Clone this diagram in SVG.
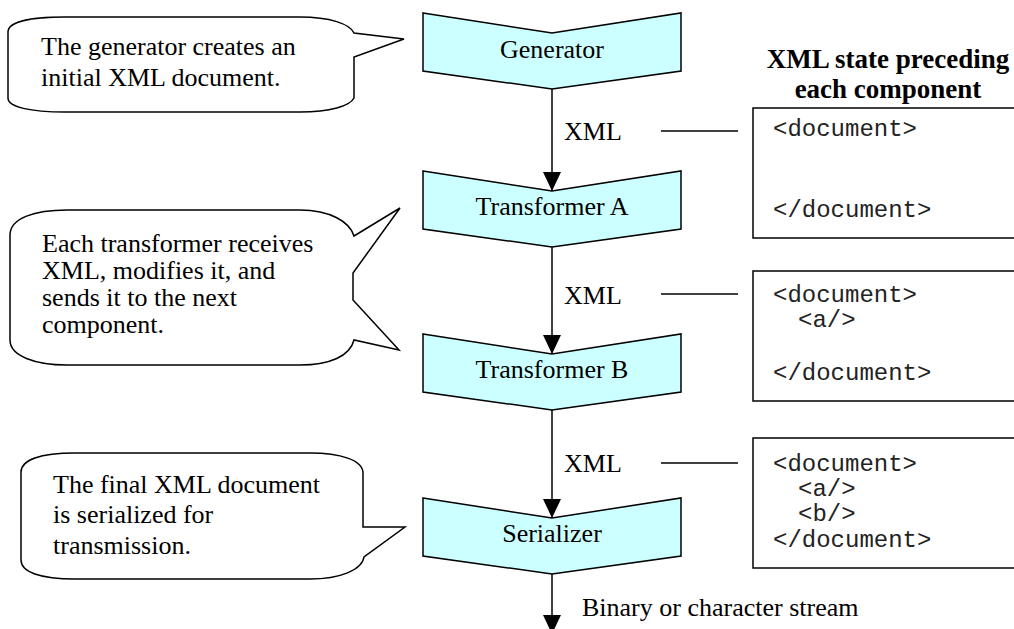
<svg xmlns="http://www.w3.org/2000/svg" width="1014" height="629" viewBox="0 0 1014 629">
<defs>
<marker id="arrow" viewBox="0 0 19 18" refX="19" refY="9" markerWidth="19" markerHeight="18" markerUnits="userSpaceOnUse" orient="auto">
<path d="M0,0 L19,9 L0,18 Z" fill="#000"/>
</marker>
<style>
.chev{fill:#ccffff;stroke:#000;stroke-width:1.5;stroke-linejoin:miter}
.callout{fill:#fff;stroke:#000;stroke-width:1.5;stroke-linejoin:miter}
.doc{fill:#fff;stroke:#000;stroke-width:1.5}
.t{font-family:"Liberation Serif","Times New Roman",serif;font-size:26px;fill:#000}
.mid{text-anchor:middle}
.title{font-family:"Liberation Serif","Times New Roman",serif;font-size:27px;font-weight:bold;fill:#000;text-anchor:middle}
.code{font-family:"Liberation Mono","Courier New",monospace;font-size:24px;fill:#222}
.conn{stroke:#000;stroke-width:1.5;fill:none}
</style>
</defs>
<rect width="1014" height="629" fill="#fff"/>

<g id="callout-generator">
<path class="callout" d="M8,32 C8,22 30,17 65,17 L300,17 C330,17 350,24 354,33 L404,39 L354,57 L354,98 C350,106 330,112 300,112 L65,112 C30,112 8,107 8,98 Z"/>
<text class="t" x="41" y="55">The generator creates an</text>
<text class="t" x="41" y="86">initial XML document.</text>
</g>

<g id="callout-transformer">
<path class="callout" d="M10,235 C10,218 35,210 67,210 L300,210 C330,210 350,222 354,236 L400,208 L353,273 L353,300 L399,350 L354,340 C350,356 330,365 300,365 L67,365 C35,365 10,356 10,340 Z"/>
<text class="t" x="42" y="252">Each transformer receives</text>
<text class="t" x="42" y="279">XML, modifies it, and</text>
<text class="t" x="42" y="306">sends it to the next</text>
<text class="t" x="42" y="333">component.</text>
</g>

<g id="callout-serializer">
<path class="callout" d="M21,472 C21,460 40,453 75,453 L310,453 C340,453 363,460 363,473 L363,527 L405,527 L364,557 C362,570 340,579 310,579 L75,579 C40,579 21,572 21,560 Z"/>
<text class="t" x="53" y="493">The final XML document</text>
<text class="t" x="53" y="523">is serialized for</text>
<text class="t" x="53" y="554">transmission.</text>
</g>

<g id="generator">
<polygon class="chev" points="423,13 552,33 681,13 681,71 552,89 423,71"/>
<text class="t mid" x="552" y="58">Generator</text>
</g>

<g id="transformer-a">
<polygon class="chev" points="423,171 552,191 681,171 681,229 552,247 423,229"/>
<text class="t mid" x="552" y="215">Transformer A</text>
</g>

<g id="transformer-b">
<polygon class="chev" points="423,334 552,354 681,334 681,392 552,410 423,392"/>
<text class="t mid" x="552" y="378">Transformer B</text>
</g>

<g id="serializer">
<polygon class="chev" points="423,498 552,518 681,498 681,556 552,574 423,556"/>
<text class="t mid" x="552" y="542">Serializer</text>
</g>

<g id="state-title">
<text class="title" x="888" y="68">XML state preceding</text>
<text class="title" x="888" y="98">each component</text>
</g>

<g id="state-1">
<rect class="doc" x="753" y="108" width="270" height="130"/>
<text class="code" x="773" y="136">&lt;document&gt;</text>
<text class="code" x="773" y="217">&lt;/document&gt;</text>
</g>

<g id="state-2">
<rect class="doc" x="753" y="271" width="270" height="130"/>
<text class="code" x="773" y="302">&lt;document&gt;</text>
<text class="code" x="798" y="327">&lt;a/&gt;</text>
<text class="code" x="773" y="380">&lt;/document&gt;</text>
</g>

<g id="state-3">
<rect class="doc" x="753" y="438" width="270" height="130"/>
<text class="code" x="773" y="471">&lt;document&gt;</text>
<text class="code" x="798" y="496">&lt;a/&gt;</text>
<text class="code" x="798" y="521">&lt;b/&gt;</text>
<text class="code" x="773" y="547">&lt;/document&gt;</text>
</g>

<g id="connectors">
<line class="conn" x1="552" y1="89" x2="552" y2="191" marker-end="url(#arrow)"/>
<line class="conn" x1="552" y1="247" x2="552" y2="354" marker-end="url(#arrow)"/>
<line class="conn" x1="552" y1="410" x2="552" y2="518" marker-end="url(#arrow)"/>
<line class="conn" x1="552" y1="574" x2="552" y2="634" marker-end="url(#arrow)"/>
<line class="conn" x1="661" y1="131" x2="738" y2="131"/>
<line class="conn" x1="661" y1="294" x2="738" y2="294"/>
<line class="conn" x1="661" y1="463" x2="738" y2="463"/>
<text class="t" x="564" y="140">XML</text>
<text class="t" x="564" y="304">XML</text>
<text class="t" x="564" y="472">XML</text>
<text class="t" x="582" y="616">Binary or character stream</text>
</g>
</svg>
